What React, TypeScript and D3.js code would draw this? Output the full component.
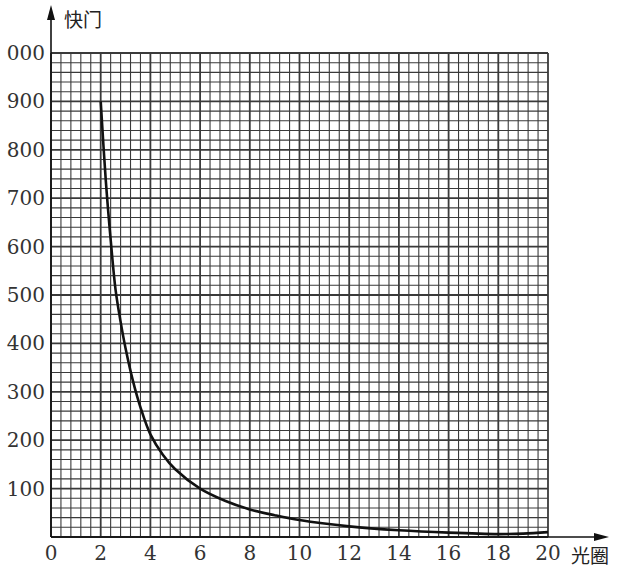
import { useRef, useEffect } from "react";
import * as d3 from "d3";

// aperture (光圈) vs shutter (快门)
const aperture = [2, 2.2, 2.4, 2.6, 2.8, 3, 3.3, 3.6, 4, 4.5, 5, 6, 7, 8, 9, 10, 12, 14, 16, 18, 19, 20];
const shutter = [900, 740, 615, 510, 445, 390, 322, 268, 212, 170, 140, 100, 75, 57, 45, 35, 22, 14, 9, 6, 7, 10];

const xTicks = [0, 2, 4, 6, 8, 10, 12, 14, 16, 18, 20];
const yTicks = [100, 200, 300, 400, 500, 600, 700, 800, 900, 1000];
const yTickLabels = ["100", "200", "300", "400", "500", "600", "700", "800", "900", "000"];
const xTitle = "光圈";
const yTitle = "快门";

export default function App() {
  const svgRef = useRef<SVGSVGElement>(null);

  useEffect(() => {
    const svg = d3.select(svgRef.current);
    svg.selectAll("*").remove();

    const x = d3.scaleLinear([0, 20], [51, 548]);
    const y = d3.scaleLinear([0, 1000], [537, 53]);
    const serif = '"DejaVu Serif", "Liberation Serif", serif';
    const cjk = '"Noto Sans CJK SC", sans-serif';

    const grid = svg.append("g");
    // minor lines: 5 per 2 units on x, 5 per 100 on y
    const xMinor = d3.range(0, 20.001, 0.4);
    const yMinor = d3.range(0, 1000.1, 20);
    grid.selectAll("line.vx")
      .data(xMinor)
      .join("line")
      .attr("x1", d => x(d)).attr("x2", d => x(d))
      .attr("y1", y(0)).attr("y2", y(1000))
      .attr("stroke", "#3a3a3a")
      .attr("stroke-width", d => Math.abs(d / 2 - Math.round(d / 2)) < 1e-6 ? 1.8 : 1.1);
    grid.selectAll("line.hy")
      .data(yMinor)
      .join("line")
      .attr("y1", d => y(d)).attr("y2", d => y(d))
      .attr("x1", x(0)).attr("x2", x(20))
      .attr("stroke", "#3a3a3a")
      .attr("stroke-width", d => Math.round(d) % 100 === 0 ? 1.8 : 1.1);

    // axes with arrows
    svg.append("line")
      .attr("x1", x(0)).attr("x2", x(0))
      .attr("y1", y(0)).attr("y2", 14)
      .attr("stroke", "#111").attr("stroke-width", 1.6);
    svg.append("path")
      .attr("d", `M${x(0)},5 L${x(0) - 4},20 L${x(0) + 4},20 Z`)
      .attr("fill", "#111");
    svg.append("line")
      .attr("x1", x(0)).attr("x2", 600)
      .attr("y1", y(0)).attr("y2", y(0))
      .attr("stroke", "#111").attr("stroke-width", 1.6);
    svg.append("path")
      .attr("d", `M609,${y(0)} L594,${y(0) - 4} L594,${y(0) + 4} Z`)
      .attr("fill", "#111");

    // tick labels
    svg.selectAll("text.yt")
      .data(yTicks)
      .join("text")
      .attr("x", 45)
      .attr("y", d => y(d))
      .attr("dy", "0.35em")
      .attr("text-anchor", "end")
      .attr("font-family", serif)
      .attr("font-size", 20)
      .attr("fill", "#333")
      .text((d, i) => yTickLabels[i]);
    svg.selectAll("text.xt")
      .data(xTicks)
      .join("text")
      .attr("x", d => x(d))
      .attr("y", 560)
      .attr("text-anchor", "middle")
      .attr("font-family", serif)
      .attr("font-size", 20)
      .attr("fill", "#333")
      .text(d => d);

    svg.append("text")
      .attr("x", 64).attr("y", 27)
      .attr("font-family", cjk).attr("font-size", 19)
      .attr("fill", "#222")
      .text(yTitle);
    svg.append("text")
      .attr("x", 571).attr("y", 563)
      .attr("font-family", cjk).attr("font-size", 19)
      .attr("fill", "#222")
      .text(xTitle);

    // the curve
    const line = d3.line<number>()
      .x((d, i) => x(aperture[i]))
      .y(d => y(d))
      .curve(d3.curveCatmullRom.alpha(0.5));
    svg.append("path")
      .attr("d", line(shutter))
      .attr("fill", "none")
      .attr("stroke", "#111")
      .attr("stroke-width", 2.6);
  }, []);

  return (
    <svg
      ref={svgRef}
      width={621}
      height={570}
      style={{ position: "absolute", left: 0, top: 0, background: "#fff" }}
    />
  );
}
